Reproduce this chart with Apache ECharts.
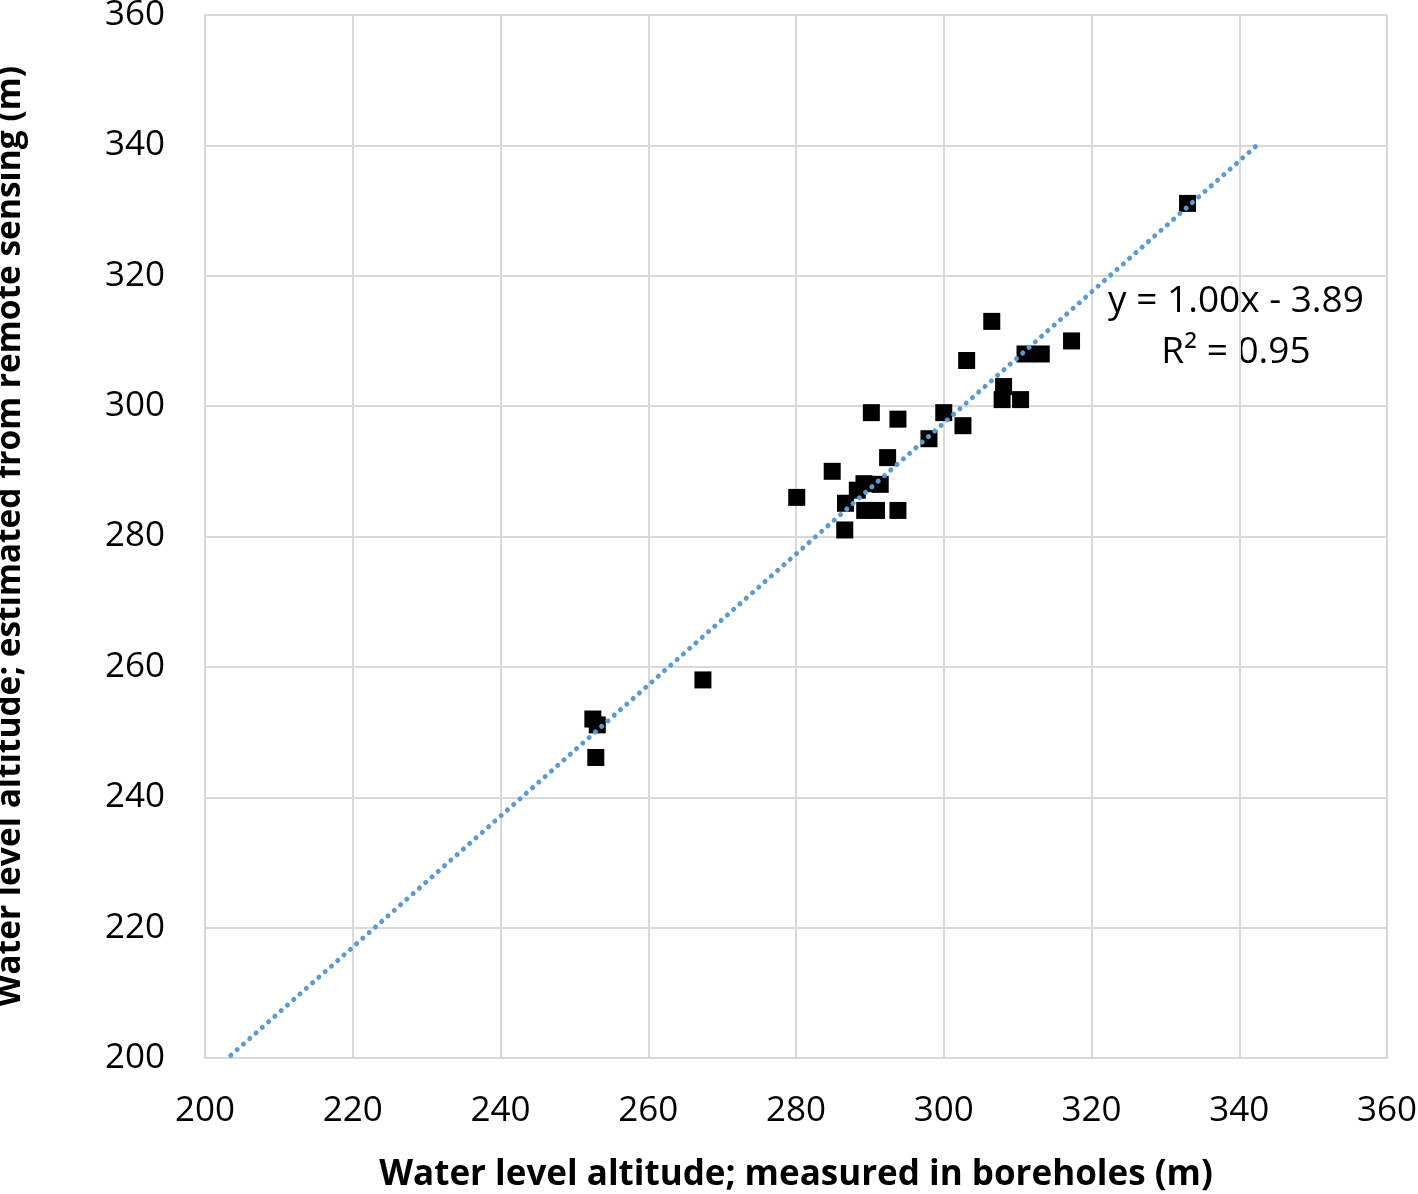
<!DOCTYPE html>
<html>
<head>
<meta charset="utf-8">
<script src="https://cdn.jsdelivr.net/npm/echarts@6/dist/echarts.min.js"></script>
<style>html,body{margin:0;padding:0;background:#fff;}#c{width:1418px;height:1194px;}</style>
</head>
<body>
<div id="c"></div>
<script>
// measured in boreholes (x) and estimated from remote sensing (y)
var measured = [280.1, 284.9, 290.2, 293.8, 292.4, 298.0, 300.0, 302.6, 303.1, 306.5, 308.1, 307.9, 310.4, 311.0, 313.2, 317.3,
                286.6, 286.7, 288.3, 289.2, 291.4, 289.3, 290.9, 293.8, 252.5, 253.1, 252.9, 267.4, 333.0];
var estimated = [286.0, 290.0, 299.0, 298.0, 292.1, 295.0, 299.0, 297.0, 307.0, 313.0, 303.0, 301.0, 301.0, 308.0, 308.0, 310.0,
                281.0, 285.1, 287.1, 288.1, 288.0, 284.0, 284.0, 284.0, 252.0, 251.1, 246.1, 258.0, 331.1];
var trendSlope = 1.005;
var trendIntercept = -4.1;
var trendRange = [203.5, 342.7];
var axisTicks = [200, 220, 240, 260, 280, 300, 320, 340, 360];
var equationText = 'y = 1.00x - 3.89';
var r2Text = 'R² = 0.95';

var pts = measured.map(function (x, i) { return [x, estimated[i]]; });
var trend = trendRange.map(function (x) { return [x, trendSlope * x + trendIntercept]; });

var font = '"Open Sans", "Liberation Sans", sans-serif';
var chart = echarts.init(document.getElementById('c'));
var gridColor = '#d9d9d9';
chart.setOption({
  animation: false,
  grid: { left: 205, right: 31, top: 15, bottom: 136, containLabel: false, outerBoundsMode: 'none' },
  xAxis: {
    type: 'value', min: axisTicks[0], max: axisTicks[axisTicks.length - 1], interval: 20,
    name: 'Water level altitude; measured in boreholes (m)', nameLocation: 'middle', nameGap: 100,
    nameTextStyle: { fontFamily: font, fontWeight: 'bold', fontSize: 35, color: '#000' },
    axisLine: { show: true, lineStyle: { color: gridColor, width: 2 } },
    axisTick: { show: false },
    axisLabel: { fontFamily: font, fontSize: 35, color: '#000', margin: 36 },
    splitLine: { show: true, lineStyle: { color: gridColor, width: 2 } }
  },
  yAxis: {
    type: 'value', min: axisTicks[0], max: axisTicks[axisTicks.length - 1], interval: 20,
    name: 'Water level altitude; estimated from remote sensing (m)', nameLocation: 'middle', nameGap: 178,
    nameTextStyle: { fontFamily: font, fontWeight: 'bold', fontSize: 33.5, color: '#000' },
    axisLine: { show: true, lineStyle: { color: gridColor, width: 2 } },
    axisTick: { show: false },
    axisLabel: { fontFamily: font, fontSize: 35, color: '#000', margin: 40 },
    splitLine: { show: true, lineStyle: { color: gridColor, width: 2 } }
  },
  series: [
    {
      type: 'line', data: trend, symbol: 'none', z: 3,
      lineStyle: { color: '#5b9bd5', width: 5, type: [0.1, 8.3], cap: 'round' }
    },
    {
      type: 'scatter', data: pts, symbol: 'rect', symbolSize: 17, z: 2,
      itemStyle: { color: '#000', opacity: 1 }
    }
  ],
  graphic: [
    { type: 'text', x: 1236, y: 301, style: { text: equationText, font: '37px ' + font, fill: '#000', align: 'center', verticalAlign: 'middle' } },
    { type: 'text', x: 1236, y: 352, style: { text: r2Text, font: '37px ' + font, fill: '#000', align: 'center', verticalAlign: 'middle' } }
  ]
});
</script>
</body>
</html>
